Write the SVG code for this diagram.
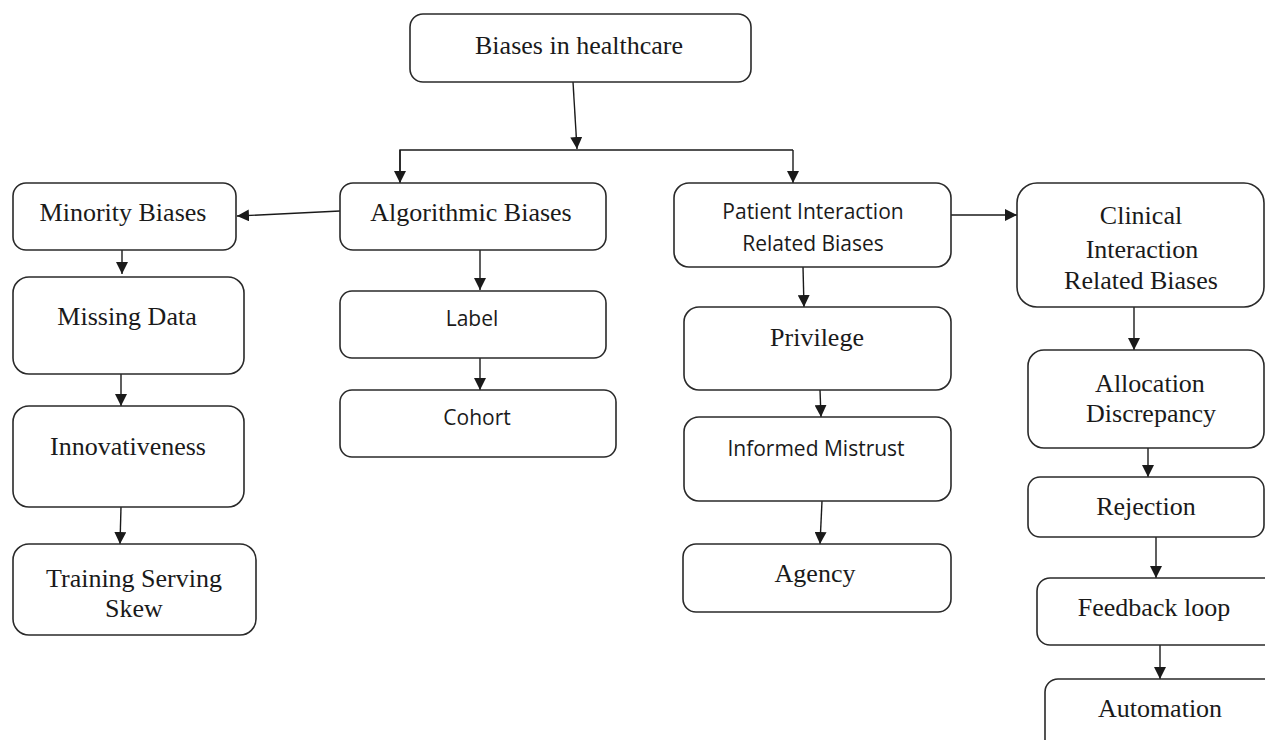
<svg xmlns="http://www.w3.org/2000/svg" width="1265" height="740" viewBox="0 0 1265 740">
<style>
.box{fill:#fff;stroke:#2a2a2a;stroke-width:1.6}
.s{font-family:"Liberation Serif","Times New Roman",serif;font-size:26px;fill:#1a1a1a;text-anchor:middle}
.a{font-family:"Open Sans","Liberation Sans",sans-serif;font-size:21px;fill:#1a1a1a;text-anchor:middle}
.c{fill:none;stroke:#1a1a1a;stroke-width:1.4}
</style>
<defs>
<marker id="ah" viewBox="0 0 10 10" refX="10" refY="5" markerWidth="12" markerHeight="12" markerUnits="userSpaceOnUse" orient="auto">
<path d="M0,0 L10,5 L0,10 z" fill="#1a1a1a"/>
</marker>
</defs>
<rect width="1265" height="740" fill="#fff"/>
<g id="connectors">
<line class="c" x1="573" y1="82" x2="577" y2="149" marker-end="url(#ah)"/>
<polyline class="c" points="400,182 400,150 793,150"/>
<line class="c" x1="400" y1="150" x2="400" y2="183" marker-end="url(#ah)"/>
<line class="c" x1="793" y1="150" x2="793" y2="183" marker-end="url(#ah)"/>
<line class="c" x1="340" y1="211" x2="237" y2="216" marker-end="url(#ah)"/>
<line class="c" x1="122" y1="250" x2="122" y2="274" marker-end="url(#ah)"/>
<line class="c" x1="121" y1="374" x2="121" y2="406" marker-end="url(#ah)"/>
<line class="c" x1="121" y1="507" x2="120" y2="544" marker-end="url(#ah)"/>
<line class="c" x1="480" y1="250" x2="480" y2="290" marker-end="url(#ah)"/>
<line class="c" x1="480" y1="358" x2="480" y2="390" marker-end="url(#ah)"/>
<line class="c" x1="803" y1="267" x2="804" y2="307" marker-end="url(#ah)"/>
<line class="c" x1="820" y1="390" x2="821" y2="417" marker-end="url(#ah)"/>
<line class="c" x1="822" y1="501" x2="820" y2="544" marker-end="url(#ah)"/>
<line class="c" x1="951" y1="215" x2="1017" y2="215" marker-end="url(#ah)"/>
<line class="c" x1="1134" y1="307" x2="1134" y2="350" marker-end="url(#ah)"/>
<line class="c" x1="1148" y1="448" x2="1148" y2="477" marker-end="url(#ah)"/>
<line class="c" x1="1156" y1="537" x2="1156" y2="578" marker-end="url(#ah)"/>
<line class="c" x1="1160" y1="645" x2="1160" y2="679" marker-end="url(#ah)"/>
</g>
<g id="root"><rect class="box" x="410" y="14" width="341" height="68" rx="13"/><text class="s" x="579" y="54">Biases in healthcare</text></g>
<g id="minority"><rect class="box" x="13" y="183" width="223" height="67" rx="13"/><text class="s" x="123" y="221">Minority Biases</text></g>
<g id="algorithmic"><rect class="box" x="340" y="183" width="266" height="67" rx="13"/><text class="s" x="471" y="221">Algorithmic Biases</text></g>
<g id="patient"><rect class="box" x="674" y="183" width="277" height="84" rx="15"/><text class="a" x="813" y="219">Patient Interaction</text><text class="a" x="813" y="251">Related Biases</text></g>
<g id="clinical"><rect class="box" x="1017" y="183" width="247" height="124" rx="20"/><text class="s" x="1141" y="224">Clinical</text><text class="s" x="1142" y="258">Interaction</text><text class="s" x="1141" y="289">Related Biases</text></g>
<g id="missing"><rect class="box" x="13" y="277" width="231" height="97" rx="16"/><text class="s" x="127" y="325">Missing Data</text></g>
<g id="innov"><rect class="box" x="13" y="406" width="231" height="101" rx="16"/><text class="s" x="128" y="455">Innovativeness</text></g>
<g id="training"><rect class="box" x="13" y="544" width="243" height="91" rx="16"/><text class="s" x="134" y="587">Training Serving</text><text class="s" x="134" y="617">Skew</text></g>
<g id="label"><rect class="box" x="340" y="291" width="266" height="67" rx="12"/><text class="a" x="472" y="326">Label</text></g>
<g id="cohort"><rect class="box" x="340" y="390" width="276" height="67" rx="12"/><text class="a" x="477" y="425">Cohort</text></g>
<g id="privilege"><rect class="box" x="684" y="307" width="267" height="83" rx="15"/><text class="s" x="817" y="346">Privilege</text></g>
<g id="mistrust"><rect class="box" x="684" y="417" width="267" height="84" rx="15"/><text class="a" x="816" y="456">Informed Mistrust</text></g>
<g id="agency"><rect class="box" x="683" y="544" width="268" height="68" rx="13"/><text class="s" x="815" y="582">Agency</text></g>
<g id="allocation"><rect class="box" x="1028" y="350" width="236" height="98" rx="16"/><text class="s" x="1150" y="392">Allocation</text><text class="s" x="1151" y="422">Discrepancy</text></g>
<g id="rejection"><rect class="box" x="1028" y="477" width="236" height="60" rx="12"/><text class="s" x="1146" y="515">Rejection</text></g>
<g id="feedback"><rect class="box" x="1037" y="578" width="250" height="67" rx="13"/><text class="s" x="1154" y="616">Feedback loop</text></g>
<g id="automation"><rect class="box" x="1045" y="679" width="240" height="80" rx="13"/><text class="s" x="1160" y="717">Automation</text></g>
</svg>
